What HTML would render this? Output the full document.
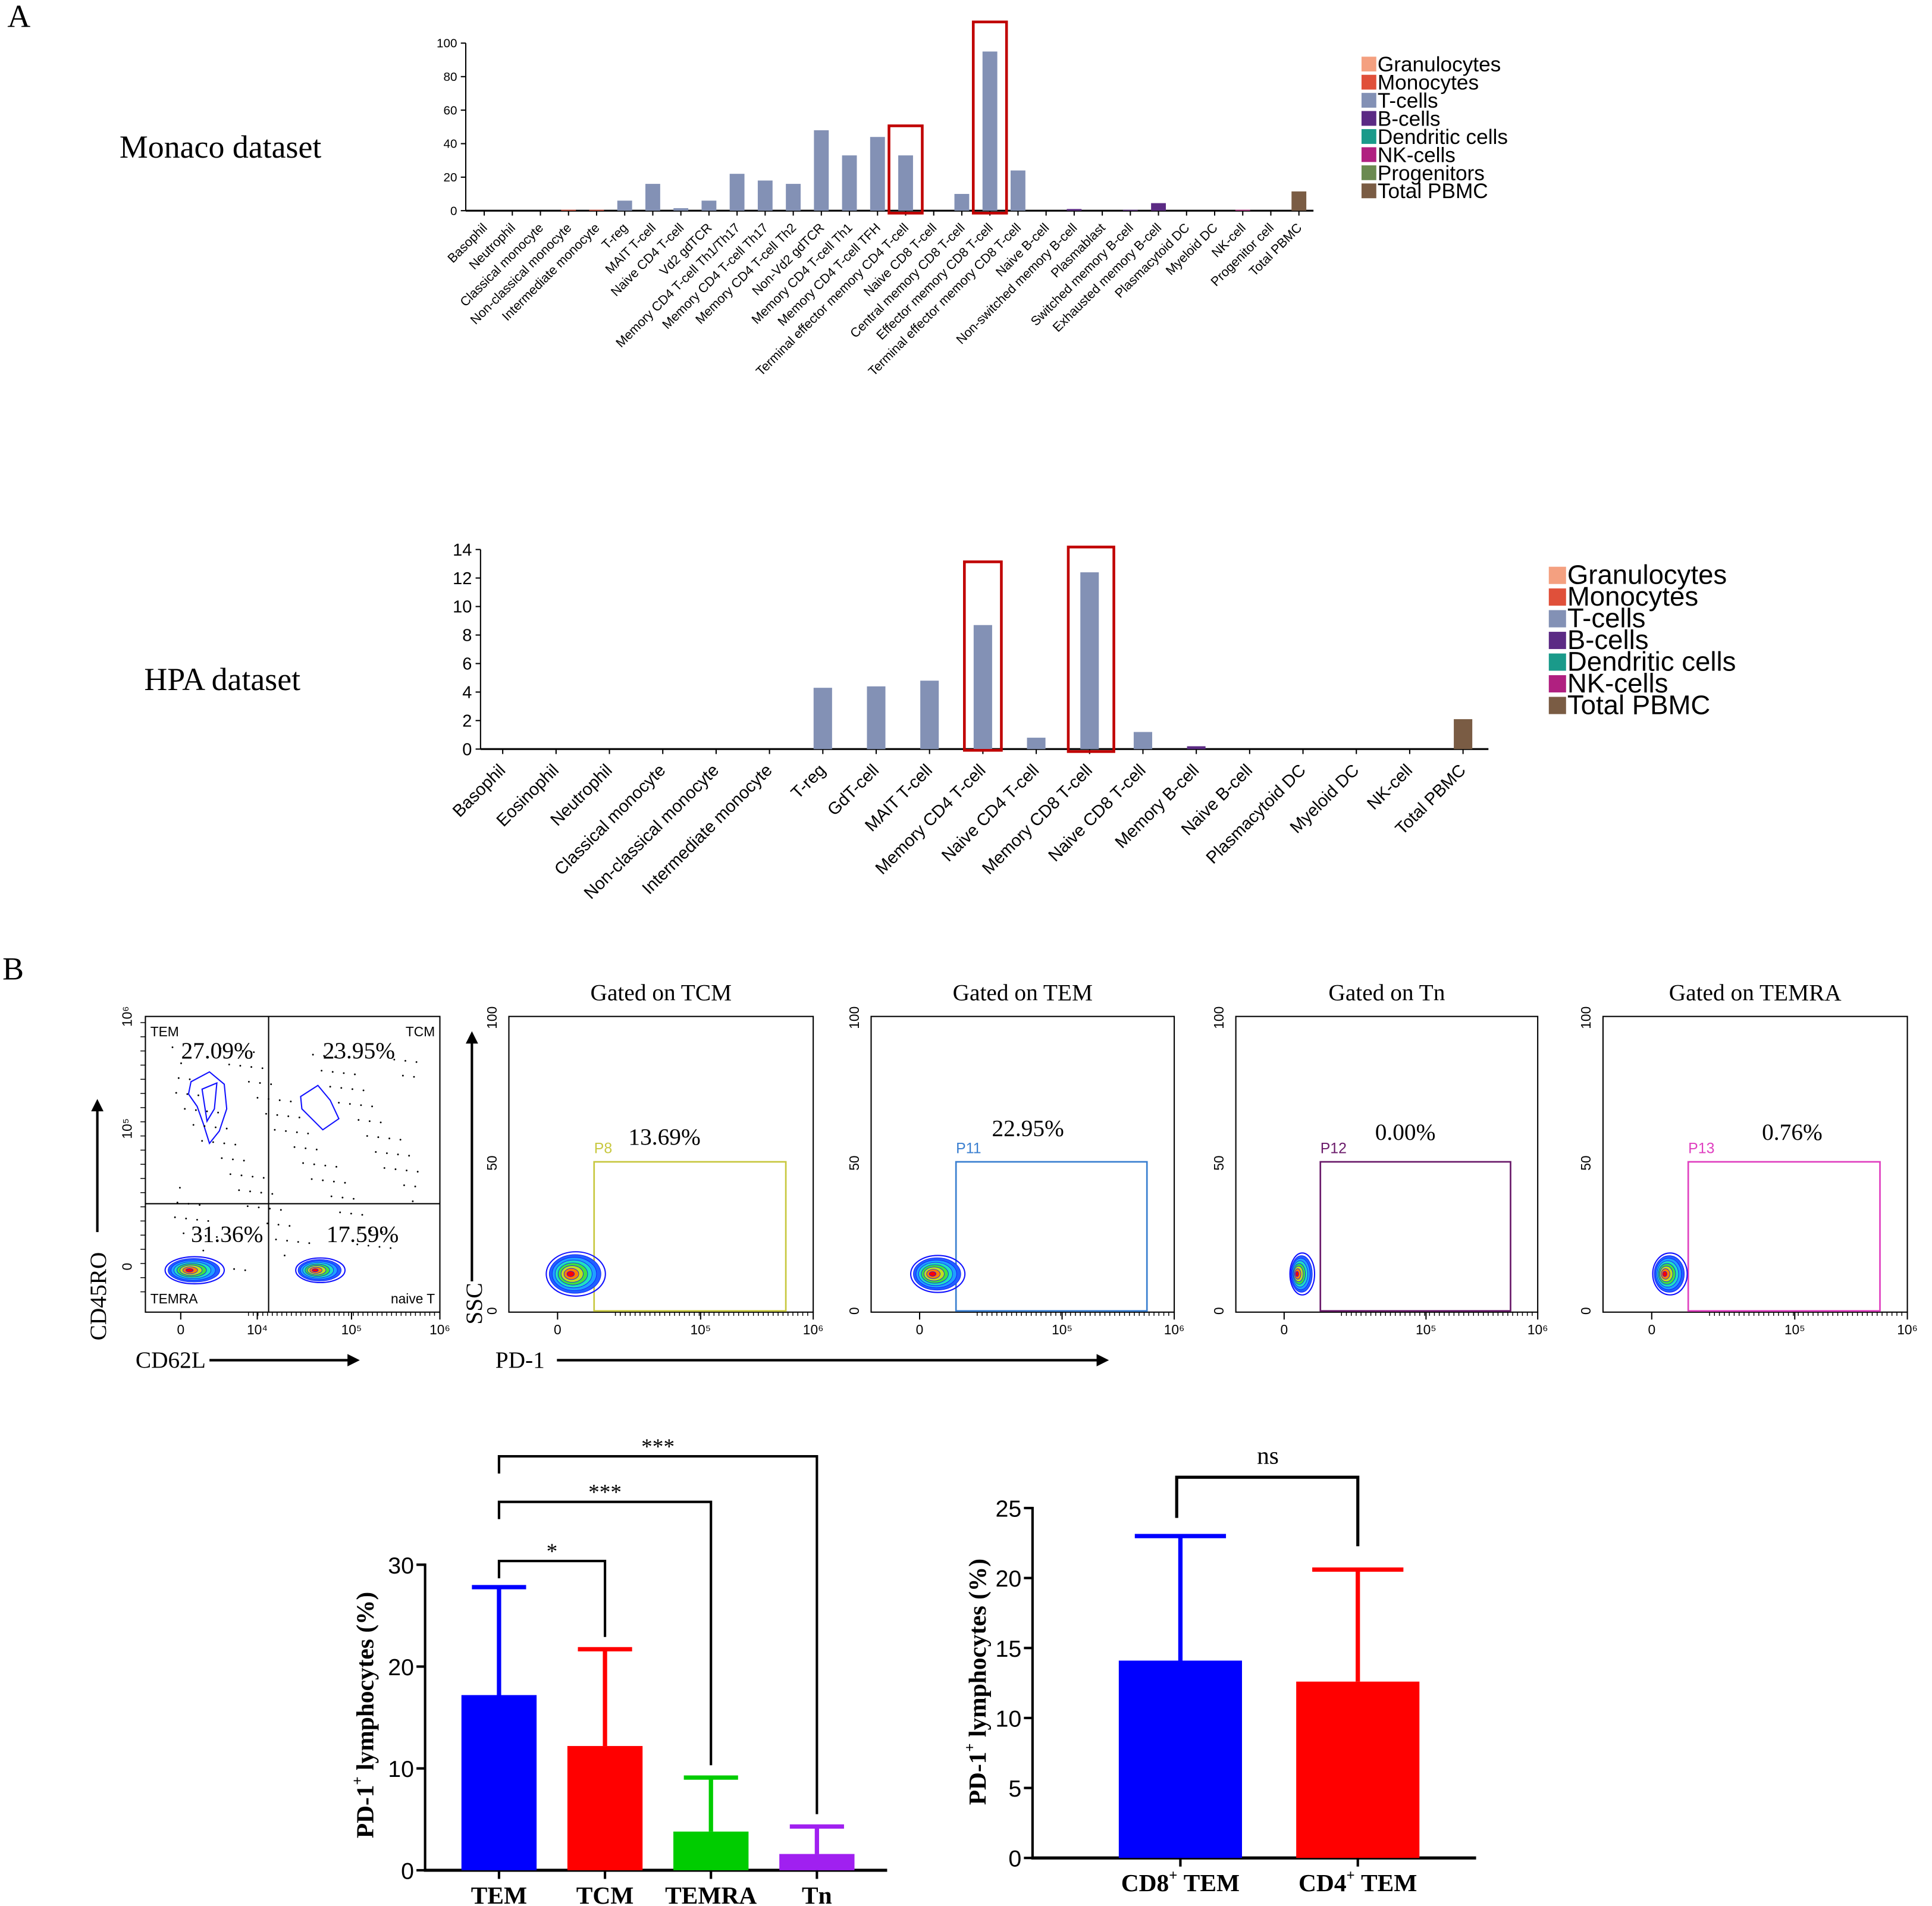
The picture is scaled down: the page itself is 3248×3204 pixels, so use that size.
<!DOCTYPE html>
<html><head><meta charset="utf-8"><style>
html,body{margin:0;padding:0;background:#fff;}
svg{display:block;}
.s{font-family:"Liberation Sans",sans-serif;}
.n{font-family:"Liberation Sans Narrow","Liberation Sans",sans-serif;}
.r{font-family:"Liberation Serif",serif;}
</style></head><body>
<svg id="fig" xmlns="http://www.w3.org/2000/svg" width="3248" height="3204" viewBox="0 0 1568 1547" preserveAspectRatio="none">
<rect width="1568" height="1547" fill="#fff"/>
<text class="r" x="6" y="22" font-size="26">A</text>
<text class="r" x="97" y="128" font-size="26">Monaco dataset</text>
<text class="r" x="117" y="560" font-size="26">HPA dataset</text>
<text class="r" x="2" y="795" font-size="26">B</text>
<g id="monaco"></g>
<g id="hpa"></g>
<g id="flow"></g>
<g id="bar1"></g>
<g id="bar2"></g>
</svg>
<script>
const NS="http://www.w3.org/2000/svg";
function mk(p,tag,a,txt){const e=document.createElementNS(NS,tag);for(const k in a)e.setAttribute(k,a[k]);if(txt!==undefined)e.textContent=txt;p.appendChild(e);return e;}
const COL={T:"#8391b5",B:"#5b2a84",P:"#7a5c44",N:"#c0308a",M:"#e0503a"};

// ---------- Monaco ----------
const monacoCats=["Basophil","Neutrophil","Classical monocyte","Non-classical monocyte","Intermediate monocyte","T-reg","MAIT T-cell","Naive CD4 T-cell","Vd2 gdTCR","Memory CD4 T-cell Th1/Th17","Memory CD4 T-cell Th17","Memory CD4 T-cell Th2","Non-Vd2 gdTCR","Memory CD4 T-cell Th1","Memory CD4 T-cell TFH","Terminal effector memory CD4 T-cell","Naive CD8 T-cell","Central memory CD8 T-cell","Effector memory CD8 T-cell","Terminal effector memory CD8 T-cell","Naive B-cell","Non-switched memory B-cell","Plasmablast","Switched memory B-cell","Exhausted memory B-cell","Plasmacytoid DC","Myeloid DC","NK-cell","Progenitor cell","Total PBMC"];
const monacoVals=[0,0,0,0.5,0.5,6,16,1.5,6,22,18,16,48,33,44,33,0,10,95,24,0,1,0,0.5,4.5,0,0,0.5,0,11.5];
const monacoGroup=["M","M","M","M","M","T","T","T","T","T","T","T","T","T","T","T","T","T","T","T","B","B","B","B","B","M","M","N","M","P"];
const monacoTicks=[0,20,40,60,80,100];
const monacoHighlight=[15,18];
const monacoLegend=["Granulocytes","Monocytes","T-cells","B-cells","Dendritic cells","NK-cells","Progenitors","Total PBMC"];
const monacoLegCol=["#f4a080","#e0503a","#8391b5","#5b2a84","#1a9a8a","#b02080","#6a8a50","#7a5c44"];

function catChart(g,o){
  const y=v=>o.y0-(v-0)/(o.ymax)*(o.y0-o.ytop);
  const x=i=>o.x0+o.dx*i;
  mk(g,"line",{x1:o.ax,y1:o.ytop,x2:o.ax,y2:o.y0,stroke:"#000","stroke-width":1});
  mk(g,"line",{x1:o.ax,y1:o.y0,x2:o.axEnd,y2:o.y0,stroke:"#000","stroke-width":1.5});
  o.ticks.forEach(t=>{mk(g,"line",{x1:o.ax-4,y1:y(t),x2:o.ax,y2:y(t),stroke:"#000"});
    const e=mk(g,"text",{x:o.ax-7,y:y(t)+o.tf*0.35,"font-size":o.tf,"text-anchor":"end",class:"s"},String(t));
    });
  o.cats.forEach((c,i)=>{
    mk(g,"line",{x1:x(i),y1:o.y0,x2:x(i),y2:o.y0+4,stroke:"#000"});
    const v=o.vals[i];
    if(v>0){const b=mk(g,"rect",{x:x(i)-o.bw/2,y:y(v),width:o.bw,height:o.y0-y(v),fill:COL[o.groups[i]]});
      }
    const t=mk(g,"text",{x:x(i)+3,y:o.y0+o.lf+4,"font-size":o.lf,"text-anchor":"end",class:"s",transform:`rotate(-45 ${x(i)+3} ${o.y0+o.lf+4})`},c);
    
  });
  o.hl.forEach(i=>{const v=o.vals[i];const r=mk(g,"rect",{x:x(i)-o.hw/2,y:y(v)-o.hpad,width:o.hw,height:o.y0-y(v)+o.hpad+2,fill:"none",stroke:"#c00000","stroke-width":2.2});
    });
  o.leg.forEach((l,i)=>{const yy=o.ly+o.lsp*i;
    mk(g,"rect",{x:o.lx,y:yy-o.ls,width:o.ls,height:o.ls,fill:o.legCol[i]});
    const t=mk(g,"text",{x:o.lx+o.ls+1,y:yy,"font-size":o.lfs,class:"s"},l);
    });
}
catChart(document.getElementById("monaco"),{cats:monacoCats,vals:monacoVals,groups:monacoGroup,ticks:monacoTicks,ymax:100,y0:171,ytop:35,x0:393,dx:22.8,bw:12,ax:378,axEnd:1066,tf:10,lf:10.5,hl:monacoHighlight,hw:27,hpad:24,leg:monacoLegend,legCol:monacoLegCol,lx:1105,ly:58,lsp:14.7,ls:12,lfs:17});

// ---------- HPA ----------
const hpaCats=["Basophil","Eosinophil","Neutrophil","Classical monocyte","Non-classical monocyte","Intermediate monocyte","T-reg","GdT-cell","MAIT T-cell","Memory CD4 T-cell","Naive CD4 T-cell","Memory CD8 T-cell","Naive CD8 T-cell","Memory B-cell","Naive B-cell","Plasmacytoid DC","Myeloid DC","NK-cell","Total PBMC"];
const hpaVals=[0,0,0,0,0,0,4.3,4.4,4.8,8.7,0.8,12.4,1.2,0.2,0,0,0,0,2.1];
const hpaGroup=["M","M","M","M","M","M","T","T","T","T","T","T","T","B","B","M","M","N","P"];
const hpaTicks=[0,2,4,6,8,10,12,14];
const hpaHighlight=[9,11];
const hpaLegend=["Granulocytes","Monocytes","T-cells","B-cells","Dendritic cells","NK-cells","Total PBMC"];
const hpaLegCol=["#f4a080","#e0503a","#8391b5","#5b2a84","#1a9a8a","#b02080","#7a5c44"];
catChart(document.getElementById("hpa"),{cats:hpaCats,vals:hpaVals,groups:hpaGroup,ticks:hpaTicks,ymax:14,y0:608,ytop:446,x0:408,dx:43.3,bw:15,ax:390,axEnd:1208,tf:14,lf:14,hl:hpaHighlight,hw:30,hpad:50,leg:hpaLegend,legCol:hpaLegCol,lx:1257,ly:474,lsp:17.6,ls:14,lfs:22});
(function(){
  const rs=document.querySelectorAll('#hpa rect[stroke="#c00000"]');
  rs[0].setAttribute('y',456);rs[0].setAttribute('height',153);
  rs[1].setAttribute('x',867);rs[1].setAttribute('width',37);rs[1].setAttribute('y',444);rs[1].setAttribute('height',166);
})();

// ---------- Flow plots ----------
(function(){
  const g=document.getElementById("flow");
  function box(x1,x2,y1,y2){mk(g,"rect",{x:x1,y:y1,width:x2-x1,height:y2-y1,fill:"none",stroke:"#000","stroke-width":1});}
  function xaxis(x1,x2,y,labels){const w=x2-x1;
    labels.forEach(l=>{const t=mk(g,"text",{x:x1+w*l[0],y:y+18,"font-size":11,"text-anchor":"middle",class:"s"},l[1]);
      mk(g,"line",{x1:x1+w*l[0],y1:y,x2:x1+w*l[0],y2:y+6,stroke:"#000"});});
    for(let i=0;i<40;i++){const xx=x1+w*(0.35+i*0.0162);mk(g,"line",{x1:xx,y1:y,x2:xx,y2:y+3,stroke:"#000","stroke-width":0.7});}
  }
  function blob(cx,cy,rx,ry){
    const cols=["#2020ff","#2060ff","#20a0ff","#20e0c0","#40e040","#c0e020","#ff8000","#ff0000"];
    cols.forEach((c,i)=>{const f=1-i/cols.length;mk(g,"ellipse",{cx:cx-i*0.6,cy:cy,rx:rx*f,ry:ry*f,fill:i==0?"none":c,stroke:"#1010ff","stroke-width":i==0?1:0.4});});
  }
  box(118,357,825,1065);
  mk(g,"line",{x1:218,y1:825,x2:218,y2:1065,stroke:"#000"});
  mk(g,"line",{x1:118,y1:977,x2:357,y2:977,stroke:"#000"});
  [["TEM",122,841,"start"],["TCM",353,841,"end"],["TEMRA",122,1058,"start"],["naive T",353,1058,"end"]].forEach(a=>{const t=mk(g,"text",{x:a[1],y:a[2],"font-size":11,"text-anchor":a[3],class:"s"},a[0]);});
  [["27.09%",147,859],["23.95%",262,859],["31.36%",155,1008],["17.59%",265,1008]].forEach(a=>{const t=mk(g,"text",{x:a[1],y:a[2],"font-size":19,class:"r"},a[0]);});
  mk(g,"path",{d:"M155 878 L170 870 L182 880 L184 900 L178 918 L170 928 L165 912 L160 898 L153 888 Z",fill:"none",stroke:"#1010ff"});
  mk(g,"path",{d:"M164 884 L176 879 L174 900 L168 910 Z",fill:"none",stroke:"#1010ff"});
  mk(g,"path",{d:"M244 890 L258 881 L268 893 L275 908 L262 917 L253 908 L245 900 Z",fill:"none",stroke:"#1010ff"});
  blob(158,1031,24,11);blob(260,1031,20,10);
  for(let i=0;i<160;i++){const xx=140+((i*37)%200),yy=850+((i*53)%190);if(yy>1015&&(xx<190||xx>235))continue;mk(g,"circle",{cx:xx,cy:yy,r:0.7,fill:"#000"});}
  xaxis(118,357,1065,[[0.12,"0"],[0.38,"10⁴"],[0.7,"10⁵"],[1.0,"10⁶"]]);
  [[825,"10⁶"],[916,"10⁵"],[1028,"0"]].forEach(a=>{const t=mk(g,"text",{x:107,y:a[0],"font-size":11,"text-anchor":"middle",class:"s",transform:`rotate(-90 107 ${a[0]})`},a[1]);});
  for(let i=0;i<20;i++){mk(g,"line",{x1:114,y1:830+i*11.5,x2:118,y2:830+i*11.5,stroke:"#000","stroke-width":0.7});}
  let t=mk(g,"text",{x:86,y:1088,"font-size":19,class:"r",transform:"rotate(-90 86 1088)"},"CD45RO");
  mk(g,"line",{x1:79,y1:1000,x2:79,y2:900,stroke:"#000","stroke-width":2});mk(g,"path",{d:"M74 902 L79 892 L84 902 Z",fill:"#000"});
  t=mk(g,"text",{x:110,y:1110,"font-size":19,class:"r"},"CD62L");
  mk(g,"line",{x1:170,y1:1104,x2:284,y2:1104,stroke:"#000","stroke-width":2});mk(g,"path",{d:"M282 1099 L292 1104 L282 1109 Z",fill:"#000"});
  t=mk(g,"text",{x:391,y:1075,"font-size":19,class:"r",transform:"rotate(-90 391 1075)"},"SSC");
  mk(g,"line",{x1:383,y1:1040,x2:383,y2:845,stroke:"#000","stroke-width":2});mk(g,"path",{d:"M378 847 L383 837 L388 847 Z",fill:"#000"});
  t=mk(g,"text",{x:402,y:1110,"font-size":19,class:"r"},"PD-1");
  mk(g,"line",{x1:452,y1:1104,x2:892,y2:1104,stroke:"#000","stroke-width":2});mk(g,"path",{d:"M890 1099 L900 1104 L890 1109 Z",fill:"#000"});
  const plots=[[413,660,"Gated on TCM","P8","13.69%","#c8c840",510,929,24,18],[707,953,"Gated on TEM","P11","22.95%","#3a7fd0",805,922,22,15],[1003,1248,"Gated on Tn","P12","0.00%","#6a1a6a",1116,925,10,17],[1301,1548,"Gated on TEMRA","P13","0.76%","#e040c0",1430,925,14,17]];
  plots.forEach(p=>{const [x1,x2,title,gname,pct,col,px,py,rx,ry]=p;const w=x2-x1;
    box(x1,x2,825,1065);
    let t=mk(g,"text",{x:(x1+x2)/2,y:812,"font-size":19,"text-anchor":"middle",class:"r"},title);
    const gx=x1+w*0.28,gw=w*0.63;
    const r=mk(g,"rect",{x:gx,y:943,width:gw,height:121,fill:"none",stroke:col,"stroke-width":1.3});
    t=mk(g,"text",{x:gx,y:936,"font-size":12,fill:col,class:"s"},gname);
    t=mk(g,"text",{x:px,y:py,"font-size":19,class:"r"},pct);
    blob(x1+w*0.22,1034,rx,ry);
    xaxis(x1,x2,1065,[[0.16,"0"],[0.63,"10⁵"],[1.0,"10⁶"]]);
    [[826,"100"],[944,"50"],[1064,"0"]].forEach(a=>{const t=mk(g,"text",{x:x1-10,y:a[0],"font-size":11,"text-anchor":"middle",class:"s",transform:`rotate(-90 ${x1-10} ${a[0]})`},a[1]);});
  });
})();

// ---------- Bar chart 1 ----------
const b1Cats=["TEM","TCM","TEMRA","Tn"];
const b1Means=[17.2,12.2,3.8,1.6];
const b1Err=[10.6,9.5,5.3,2.7];
const b1Ticks=[0,10,20,30];
const b1Colors=["#0000ff","#ff0000","#00cc00","#a020f0"];
const b1Sig=[[0,1,"*"],[0,2,"***"],[0,3,"***"]];
// ---------- Bar chart 2 ----------
const b2Cats=["CD8","CD4"];
const b2Means=[14.1,12.6];
const b2Err=[8.9,8.0];
const b2Ticks=[0,5,10,15,20,25];
const b2Colors=["#0000ff","#ff0000"];

function barChart(g,o){
  const y=v=>o.y0-v/o.ymax*(o.y0-o.ytop);
  const x=i=>o.x0+o.dx*i;
  mk(g,"line",{x1:o.ax,y1:y(o.ymax)-1,x2:o.ax,y2:o.y0+1,stroke:"#000","stroke-width":2});
  mk(g,"line",{x1:o.ax-1,y1:o.y0,x2:o.axEnd,y2:o.y0,stroke:"#000","stroke-width":2.5});
  o.ticks.forEach(t=>{mk(g,"line",{x1:o.ax-7,y1:y(t),x2:o.ax,y2:y(t),stroke:"#000","stroke-width":2});
    const e=mk(g,"text",{x:o.ax-9,y:y(t)+7,"font-size":19,"text-anchor":"end",class:"n"},String(t));});
  o.cats.forEach((c,i)=>{
    const top=y(o.means[i]+o.err[i]);
    mk(g,"line",{x1:x(i),y1:y(o.means[i]),x2:x(i),y2:top,stroke:o.colors[i],"stroke-width":3.5});
    mk(g,"line",{x1:x(i)-o.cap,y1:top,x2:x(i)+o.cap,y2:top,stroke:o.colors[i],"stroke-width":3.5});
    const b=mk(g,"rect",{x:x(i)-o.bw/2,y:y(o.means[i]),width:o.bw,height:o.y0-y(o.means[i]),fill:o.colors[i]});
    
    mk(g,"line",{x1:x(i),y1:o.y0,x2:x(i),y2:o.y0+7,stroke:"#000","stroke-width":2});
    const t=mk(g,"text",{x:x(i),y:o.y0+27,"font-size":20,"font-weight":"bold","text-anchor":"middle",class:"r"});
    
    if(o.sup){t.textContent=c;mk(t,"tspan",{dy:-9,"font-size":12},"+");mk(t,"tspan",{dy:9},"\u00a0TEM");}else t.textContent=c;
  });
  const yt=mk(g,"text",{x:o.ytx,y:o.yty,"font-size":20,"font-weight":"bold","text-anchor":"middle",class:"r",transform:`rotate(-90 ${o.ytx} ${o.yty})`},"PD-1");
  mk(yt,"tspan",{dy:-9,"font-size":12},"+");mk(yt,"tspan",{dy:9}," lymphocytes (%)");
  
}
barChart(document.getElementById("bar1"),{cats:b1Cats,means:b1Means,err:b1Err,ticks:b1Ticks,colors:b1Colors,ymax:30,y0:1518,ytop:1270,x0:405,dx:86,bw:61,cap:22,ax:345,axEnd:720,ytx:303,yty:1392});
barChart(document.getElementById("bar2"),{cats:b2Cats,means:b2Means,err:b2Err,ticks:b2Ticks,colors:b2Colors,ymax:25,y0:1508,ytop:1224,x0:958,dx:144,bw:100,cap:37,ax:838,axEnd:1198,ytx:800,yty:1365,sup:true});
(function(){
  const g=document.getElementById("bar1");
  const x=i=>405+86*i;
  const lv=[1267,1219,1182];
  b1Sig.forEach((s,k)=>{const yy=lv[k];const drop=1518-(b1Means[s[1]]+b1Err[s[1]])/30*248-10;
    mk(g,"path",{d:`M${x(s[0])} ${yy+14} L${x(s[0])} ${yy} L${x(s[1])} ${yy} L${x(s[1])} ${drop}`,fill:"none",stroke:"#000","stroke-width":2});
    const t=mk(g,"text",{x:(x(s[0])+x(s[1]))/2,y:yy-2,"font-size":18,"text-anchor":"middle",class:"r"},s[2]);});
  const g2=document.getElementById("bar2");
  mk(g2,"path",{d:"M955 1232 L955 1199 L1102 1199 L1102 1255",fill:"none",stroke:"#000","stroke-width":2.5});
  const t=mk(g2,"text",{x:1029,y:1188,"font-size":20,"text-anchor":"middle",class:"r"},"ns");
})();
</script>
</body></html>
